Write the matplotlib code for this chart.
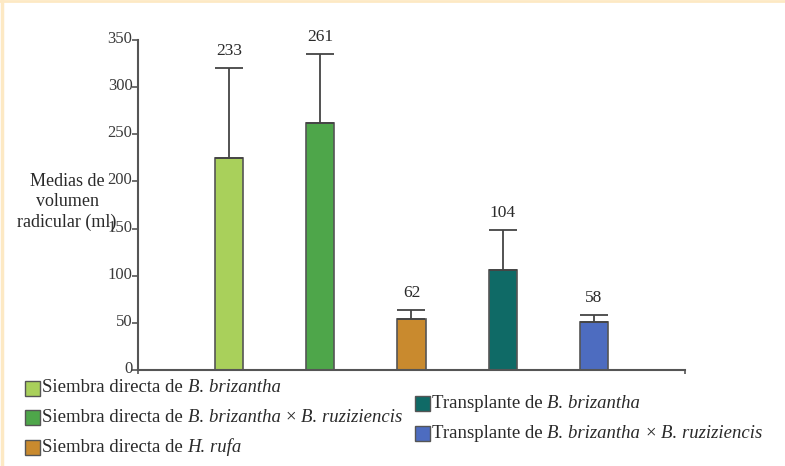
import matplotlib
matplotlib.use("Agg")
import matplotlib.pyplot as plt
from matplotlib.patches import Rectangle
from matplotlib.lines import Line2D
from matplotlib.offsetbox import TextArea, HPacker, AnchoredOffsetbox
import matplotlib.transforms as mtransforms

plt.rcParams['font.family'] = ['Liberation Serif', 'DejaVu Serif']

# legend entries: list of (text, italic) pieces
categories = [
    [("Siembra directa de", False), ("B. brizantha", True)],
    [("Siembra directa de", False), ("B. brizantha", True), ("×", False), ("B. ruziziencis", True)],
    [("Siembra directa de", False), ("H. rufa", True)],
    [("Transplante de", False), ("B. brizantha", True)],
    [("Transplante de", False), ("B. brizantha", True), ("×", False), ("B. ruziziencis", True)],
]
means = [225, 262, 54, 106, 51]
errors = [95, 73, 10, 43, 7]
value_labels = ["233", "261", "62", "104", "58"]
yticks = [0, 50, 100, 150, 200, 250, 300, 350]
colors = ["#a9d05b", "#4ea64a", "#c98a2e", "#0f6a66", "#4d6cc0"]

W, H = 785, 466
fig = plt.figure(figsize=(W / 100, H / 100), dpi=100)
ax = fig.add_axes([138 / W, 1 - 370 / H, (685 - 138) / W, (370 - 40) / H])

text_color = "#2a2a2a"
x = list(range(len(means)))
edge = "#555555"
ax.bar(x, means, width=0.31, color=colors, edgecolor=edge, linewidth=1.2, zorder=2)
ax.errorbar(x, means, yerr=[[0] * len(errors), errors], fmt='none',
            ecolor="#444444", elinewidth=1.3, capsize=10, capthick=1.3, zorder=3)
for xi, m, e, lab in zip(x, means, errors, value_labels):
    ax.annotate(lab, (xi, m + e), xytext=(0, 17), textcoords='offset pixels',
                ha='center', va='center', fontsize=12.5, color=text_color)

ax.set_xlim(-1, 5)
ax.set_ylim(0, 350)
ax.set_yticks(yticks)
ax.set_yticklabels([str(t) for t in yticks], fontsize=12, color="#3a3a3a")
ax.set_xticks([-1, 5])
ax.set_xticklabels(["", ""])
ax.tick_params(axis='y', length=4, width=1.2, color="#555555", pad=0)
ax.tick_params(axis='x', length=3, width=1.2, color="#555555")
offset = mtransforms.ScaledTranslation(0, 3 / 100, fig.dpi_scale_trans)
for lbl in ax.get_yticklabels():
    lbl.set_transform(lbl.get_transform() + offset)
for s in ['top', 'right']:
    ax.spines[s].set_visible(False)
for s in ['left', 'bottom']:
    ax.spines[s].set_color("#555555")
    ax.spines[s].set_linewidth(1.5)

fig.text(67 / W, 1 - 202 / H, "Medias de\nvolumen\nradicular (ml)",
         ha='center', va='center', fontsize=13, color=text_color, linespacing=1.28)

# manual legend
positions = [(25, 388), (25, 417), (25, 447), (415, 403), (415, 433)]
for (px, py), c, pieces in zip(positions, colors, categories):
    fig.add_artist(Rectangle(((px) / W, 1 - (py + 7.5) / H), 15 / W, 15 / H,
                             transform=fig.transFigure, facecolor=c,
                             edgecolor="#555555", linewidth=1.0))
    areas = [TextArea(t, textprops=dict(fontsize=13.5, color=text_color,
                                        fontstyle='italic' if it else 'normal'))
             for t, it in pieces]
    box = HPacker(children=areas, align='baseline', pad=0, sep=3.5)
    anc = AnchoredOffsetbox(loc='center left', child=box, pad=0, borderpad=0,
                            frameon=False, bbox_to_anchor=((px + 17) / W, 1 - py / H),
                            bbox_transform=fig.transFigure)
    fig.add_artist(anc)

# thin cream frame at top and left
fig.add_artist(Line2D([0, 1], [0.997, 0.997], transform=fig.transFigure, color="#fde9c4", linewidth=2.0))
fig.add_artist(Line2D([0.002, 0.002], [0, 1], transform=fig.transFigure, color="#fde9c4", linewidth=2.5))

fig.savefig("out.png", dpi=100)
